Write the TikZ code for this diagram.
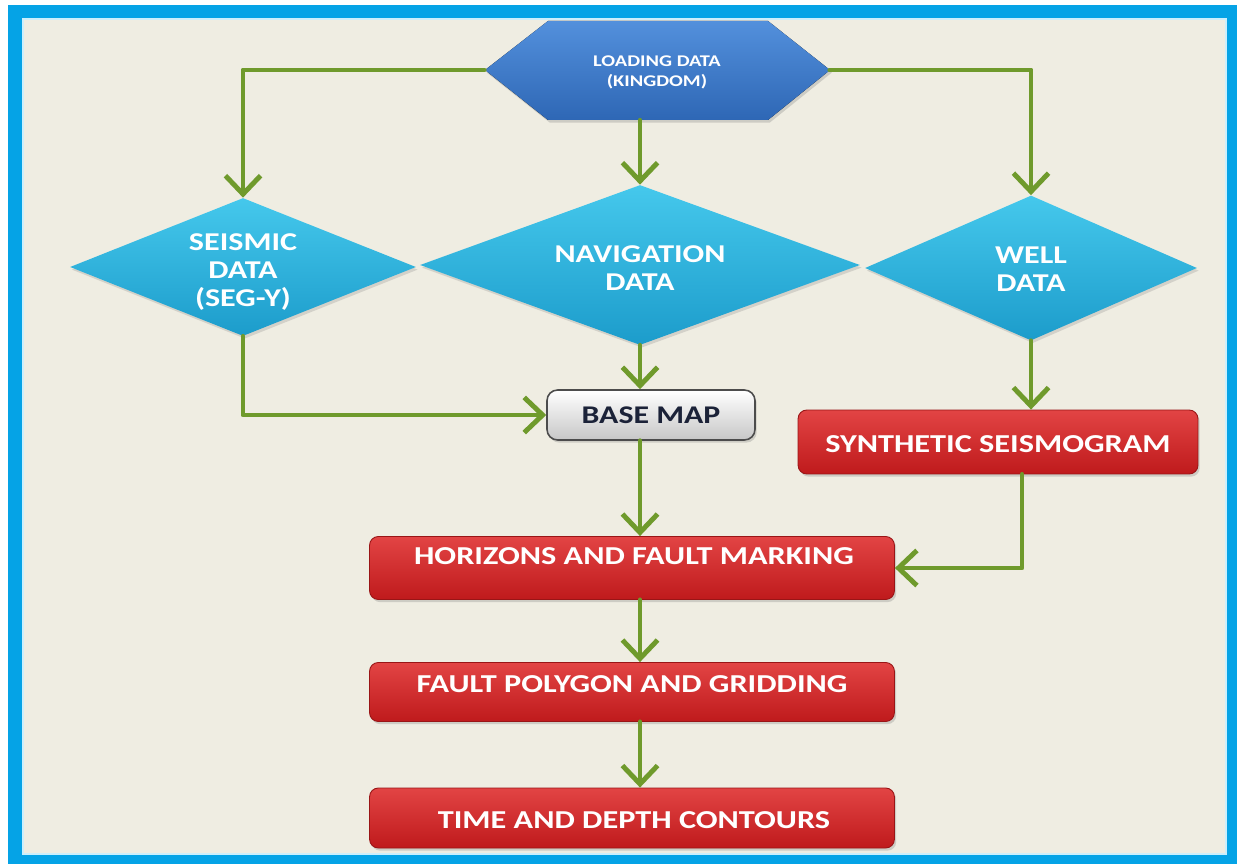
\documentclass[tikz,border=0pt]{standalone}
\usepackage{fontspec}
\setmainfont{Carlito}
\newfontfamily\lab[FakeStretch=1.25]{Carlito}
\usetikzlibrary{arrows.meta,shapes.geometric,shadows}
\definecolor{frameblue}{HTML}{05A3E6}
\definecolor{cream}{HTML}{EFEDE2}
\definecolor{conngreen}{HTML}{6F9A2C}
\definecolor{hexTop}{HTML}{5390DC}
\definecolor{hexBot}{HTML}{2E67B5}
\definecolor{diaTop}{HTML}{45C8EC}
\definecolor{diaBot}{HTML}{1C9CCB}
\definecolor{redTop}{HTML}{E24444}
\definecolor{redBot}{HTML}{BF1A1C}
\definecolor{navytext}{HTML}{1B2238}
\tikzset{
  conn/.style={draw=conngreen, line width=2.8pt, line cap=round, line join=round,
    -{Straight Barb[length=10.5pt,width=20pt,line width=2.8pt]}},
  diabox/.style={diamond, inner sep=0pt, top color=diaTop, bottom color=diaBot, draw=none,
    drop shadow={shadow xshift=1pt, shadow yshift=-1.5pt, opacity=.25}},
  diatext/.style={text=white, font=\lab\bfseries\fontsize{14.6}{16.2}\selectfont, align=center},
  redbox/.style={rectangle, rounded corners=5pt, top color=redTop, bottom color=redBot,
    draw=redBot!80!black, line width=0.5pt,
    drop shadow={shadow xshift=1pt, shadow yshift=-1.5pt, opacity=.3}},
  redtext/.style={text=white, font=\lab\bfseries\fontsize{14.7}{16}\selectfont},
}
\begin{document}
\begin{tikzpicture}[x=0.02cm, y=-0.02cm]
\useasboundingbox (0,0) rectangle (1238,865);
\fill[white] (0,0) rectangle (1238,865);
\fill[frameblue] (8,5) rectangle (1237,864);
\fill[cream] (22,18) rectangle (1227,855);
\draw[white!80!cyan, line width=1.2pt] (23,19) rectangle (1226,854);
% hexagon
\node[minimum width=6.9cm, minimum height=2cm, inner sep=0pt] (load) at (657,70) {};
\fill[top color=hexTop, bottom color=hexBot, drop shadow={shadow xshift=1pt, shadow yshift=-1.5pt, opacity=.3}]
  (485,70) -- (548,21) -- (768,21) -- (830,70) -- (768,120) -- (548,120) -- cycle;
\node[text=white, font=\lab\bfseries\fontsize{9.3}{11.5}\selectfont, align=center] (loadtxt) at (657,72) {LOADING DATA\\(KINGDOM)};
% diamonds
\node[diabox, minimum width=6.92cm, minimum height=2.76cm] (seis) at (243,267) {};
\node[diatext] (seistxt) at (243,272) {SEISMIC\\DATA\\(SEG-Y)};
\node[diabox, minimum width=8.8cm, minimum height=3.2cm] (nav) at (640,265) {};
\node[diatext] (navtxt) at (640,268) {NAVIGATION\\DATA};
\node[diabox, minimum width=6.64cm, minimum height=2.9cm] (well) at (1031,268) {};
\node[diatext] (welltxt) at (1031,269) {WELL\\DATA};
% base map
\node[rectangle, rounded corners=6pt, top color=white, bottom color=black!22, draw=black!70,
  line width=0.9pt, minimum width=4.16cm, minimum height=1cm, text=navytext,
  font=\lab\bfseries\fontsize{14.5}{15}\selectfont,
  drop shadow={shadow xshift=1pt, shadow yshift=-1.5pt, opacity=.3}] (base) at (651,415) {BASE MAP};
% red boxes
\node[redbox, minimum width=8cm, minimum height=1.28cm] (synth) at (998,442) {};
\node[redtext] (synthtxt) at (998,444) {SYNTHETIC SEISMOGRAM};
\node[redbox, minimum width=10.5cm, minimum height=1.26cm] (hor) at (632,568) {};
\node[redtext] (hortxt) at (634,556) {HORIZONS AND FAULT MARKING};
\node[redbox, minimum width=10.5cm, minimum height=1.18cm] (fault) at (632,692) {};
\node[redtext] (faulttxt) at (632,684) {FAULT POLYGON AND GRIDDING};
\node[redbox, minimum width=10.5cm, minimum height=1.2cm] (time) at (632,818) {};
\node[redtext] (timetxt) at (634,820) {TIME AND DEPTH CONTOURS};
% connectors
\coordinate (col) at (640,0);
\draw[conn] (load.west) -| (seis.north);
\draw[conn] (col |- load.south) -- (nav.north);
\draw[conn] (load.east) -| (well.north);
\draw[conn] (seis.south) |- (base.west);
\draw[conn] (nav.south) -- (col |- base.north);
\draw[conn] (well.south) -- (well.south |- synth.north);
\draw[conn] (col |- base.south) -- (col |- hor.north);
\draw[conn] ([xshift=0.48cm]synth.south) |- (hor.east);
\draw[conn] (col |- hor.south) -- (col |- fault.north);
\draw[conn] (col |- fault.south) -- (col |- time.north);
\end{tikzpicture}
\end{document}
